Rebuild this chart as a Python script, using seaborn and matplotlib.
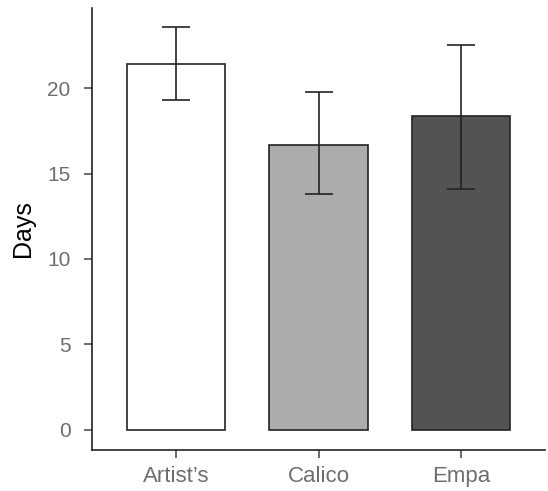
import pandas as pd
import seaborn as sns
import matplotlib.pyplot as plt

# Data
groups = ["Artist\u2019s", "Calico", "Empa"]
days = [21.4, 16.7, 18.35]
err_low = [19.3, 13.8, 14.1]
err_high = [23.55, 19.75, 22.55]
bar_colors = ["#ffffff", "#abacaf", "#525355"]

df = pd.DataFrame({"group": groups, "days": days})

sns.set_style("ticks")
plt.rcParams["font.family"] = ["Liberation Sans", "DejaVu Sans"]

fig = plt.figure(figsize=(5.48, 4.91), dpi=100)
ax = fig.add_axes([0.168, 0.084, 0.827, 0.9])

sns.barplot(data=df, x="group", y="days", hue="group", palette=bar_colors,
            legend=False, errorbar=None, width=0.69,
            edgecolor="#222222", linewidth=1.2, ax=ax)

lower = [d - lo for d, lo in zip(days, err_low)]
upper = [hi - d for d, hi in zip(days, err_high)]
ax.errorbar(range(len(groups)), days, yerr=[lower, upper], fmt="none",
            ecolor="#222222", elinewidth=1.2, capsize=10, capthick=1.2)

ax.set_xlim(-0.59, 2.59)
ax.set_ylim(-1.17, 24.7)
ax.set_yticks([0, 5, 10, 15, 20])
ax.set_xlabel("")
ax.set_ylabel("Days", fontsize=18, color="black", labelpad=9)
ax.tick_params(axis="both", labelcolor="#6e6e70",
               color="#444444", length=5.5, width=1.1)
ax.tick_params(axis="y", labelsize=15, pad=10)
ax.tick_params(axis="x", labelsize=16, pad=6)
for side in ["left", "bottom"]:
    ax.spines[side].set_color("#222222")
    ax.spines[side].set_linewidth(1.2)
sns.despine(ax=ax)

fig.savefig("out.png", dpi=100)
